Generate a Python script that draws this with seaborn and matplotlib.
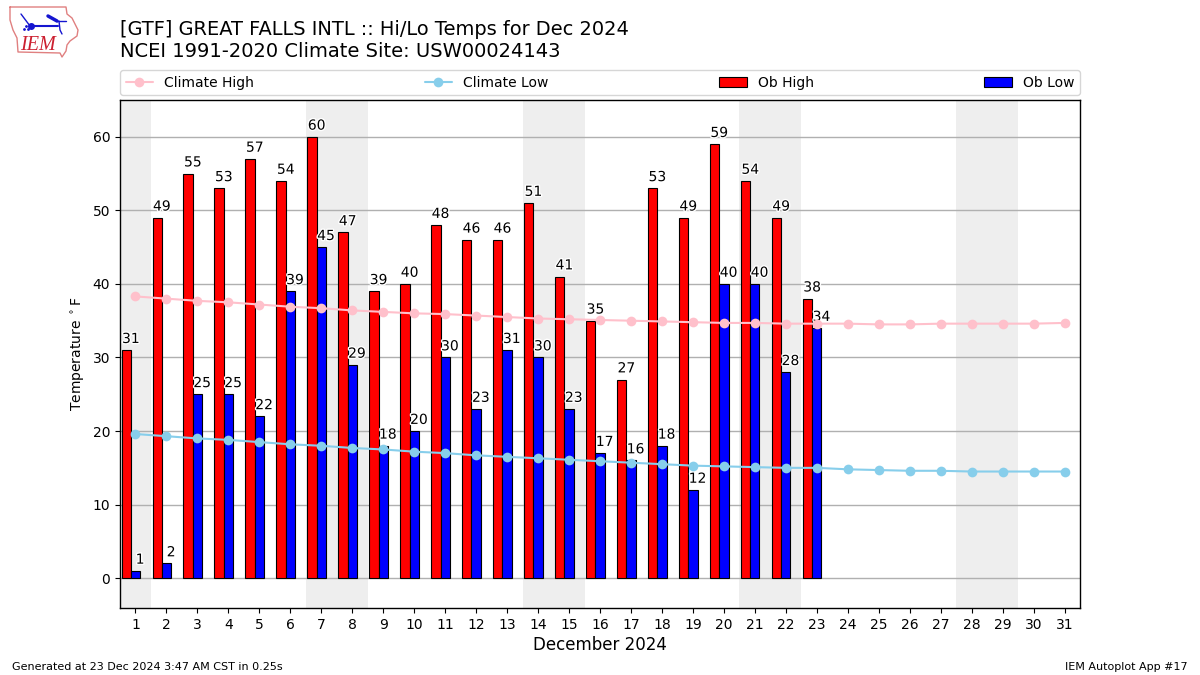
#Libraries
import numpy as np
import pandas as pd
import seaborn as sns
import matplotlib.pyplot as plt
import matplotlib.patheffects as pe

#Inputs
days = list(range(1, 32))
ob_high = [31, 49, 55, 53, 57, 54, 60, 47, 39, 40, 48, 46, 46, 51, 41, 35, 27, 53, 49, 59, 54, 49, 38]
ob_low = [1, 2, 25, 25, 22, 39, 45, 29, 18, 20, 30, 23, 31, 30, 23, 17, 16, 18, 12, 40, 40, 28, 34]
climate_high = [38.3, 38.0, 37.7, 37.5, 37.2, 36.9, 36.7, 36.4, 36.2, 36.0, 35.9, 35.7, 35.5, 35.3, 35.2, 35.1,
                35.0, 34.9, 34.8, 34.7, 34.7, 34.6, 34.6, 34.6, 34.5, 34.5, 34.6, 34.6, 34.6, 34.6, 34.7]
climate_low = [19.6, 19.3, 19.0, 18.8, 18.5, 18.2, 18.0, 17.7, 17.5, 17.2, 17.0, 16.7, 16.5, 16.3, 16.1, 15.9,
               15.7, 15.5, 15.3, 15.2, 15.1, 15.0, 15.0, 14.8, 14.7, 14.6, 14.6, 14.5, 14.5, 14.5, 14.5]
weekends = [(0.5, 1.5), (6.5, 8.5), (13.5, 15.5), (20.5, 22.5), (27.5, 29.5)]

sns.set_style('ticks')
plt.rcParams['font.family'] = ['DejaVu Sans']
plt.rcParams['axes.edgecolor'] = 'black'
plt.rcParams['text.color'] = 'black'
plt.rcParams['axes.labelcolor'] = 'black'
plt.rcParams['xtick.color'] = 'black'
plt.rcParams['ytick.color'] = 'black'

W, H = 1200, 675
fig = plt.figure(figsize=(12, 6.75), dpi=100)
ax = fig.add_axes([120/W, 1 - 608/H, 960/W, 508/H])

df_ob = pd.DataFrame({'day': days[:len(ob_high)], 'high': ob_high, 'low': ob_low})
df_clim = pd.DataFrame({'day': days, 'high': climate_high, 'low': climate_low})

#Bars: the high sits left of the day, the low is centred on it
sns.barplot(x=df_ob['day'] - 0.3, y=df_ob['high'], native_scale=True, width=0.3, color='red', saturation=1,
            edgecolor='black', linewidth=0.8, label='Ob High', ax=ax, zorder=2)
sns.barplot(x=df_ob['day'], y=df_ob['low'], native_scale=True, width=0.3, color='blue', saturation=1,
            edgecolor='black', linewidth=0.8, label='Ob Low', ax=ax, zorder=2)

#Climate lines
sns.lineplot(x=df_clim['day'], y=df_clim['high'], color='pink', marker='o', markersize=7, markeredgewidth=0,
             linewidth=1.5, label='Climate High', ax=ax, zorder=4, errorbar=None)
sns.lineplot(x=df_clim['day'], y=df_clim['low'], color='skyblue', marker='o', markersize=7, markeredgewidth=0,
             linewidth=1.5, label='Climate Low', ax=ax, zorder=4, errorbar=None)

#Value labels
halo = [pe.withStroke(linewidth=2, foreground='white')]
for d, hi, lo in zip(df_ob['day'], df_ob['high'], df_ob['low']):
    ax.annotate(str(hi), (d - 0.15, hi), xytext=(0, 3), textcoords='offset points', ha='center', va='bottom',
                fontsize=10, path_effects=halo, zorder=3)
    ax.annotate(str(lo), (d + 0.15, lo), xytext=(0, 3), textcoords='offset points', ha='center', va='bottom',
                fontsize=10, path_effects=halo, zorder=3)

#Weekend shading and grid
for start, end in weekends:
    ax.axvspan(start, end, color='#eeeeee', linewidth=0, zorder=0)
ax.yaxis.grid(True, color='#b0b0b0', linewidth=1, zorder=1)
ax.xaxis.grid(False)
ax.set_axisbelow(True)

ax.set_xlim(0.5, 31.5)
ax.set_ylim(-4.05, 65)
ax.set_xticks(days)
ax.set_xticklabels([str(d) for d in days])
ax.set_yticks(np.arange(0, 61, 10))
ax.tick_params(axis='both', labelsize=10, length=3.5, width=0.8, color='black')
ax.set_xlabel('December 2024', fontsize=12, labelpad=3)
ax.set_ylabel(r'Temperature $^\circ$F', fontsize=10)
for side in ax.spines.values():
    side.set_visible(True)
    side.set_linewidth(1)
    side.set_color('black')

#Legend strip above the axes
handles, labels = ax.get_legend_handles_labels()
order = [labels.index(n) for n in ['Climate High', 'Climate Low', 'Ob High', 'Ob Low']]
ax.legend([handles[i] for i in order], [labels[i] for i in order], loc='lower left', mode='expand', ncol=4,
          bbox_to_anchor=(0, 1.0095, 1, 0.05), borderaxespad=0, fontsize=10, frameon=True)

#Titles and footers
fig.text(120/W, 1 - 29.5/H, '[GTF] GREAT FALLS INTL :: Hi/Lo Temps for Dec 2024', fontsize=13.95, va='center')
fig.text(120/W, 1 - 51.5/H, 'NCEI 1991-2020 Climate Site: USW00024143', fontsize=14, va='center')
fig.text(12/W, 1 - 667/H, 'Generated at 23 Dec 2024 3:47 AM CST in 0.25s', fontsize=8, va='center')
fig.text(1188/W, 1 - 667/H, 'IEM Autoplot App #17', fontsize=8, va='center', ha='right')

#IEM logo, drawn in its own little axes in pixel units
logo = fig.add_axes([0, 1 - 65/H, 90/W, 65/H])
logo.set_xlim(0, 90)
logo.set_ylim(65, 0)
logo.axis('off')
logo.plot([10, 66, 67, 72, 78, 77, 70, 67, 66, 62, 60, 18, 17, 13, 10, 10],
          [7, 7, 14, 18, 30, 36, 41, 45, 51, 57, 53, 52, 38, 30, 20, 7], color='#e08080', linewidth=1)
logo.plot([30, 58], [26, 26], color='#1515d0', linewidth=1.5)
logo.plot([21, 24, 30], [14, 18, 26], color='#1515d0', linewidth=1)
logo.plot([48, 57], [16, 21], color='#1515d0', linewidth=2.5)
logo.plot([56, 66], [21, 21], color='#1515d0', linewidth=1)
logo.plot([59, 60, 62], [21, 30, 34], color='#1515d0', linewidth=1)
logo.plot([31], [26], marker='o', markersize=4, color='#1515d0')
logo.plot([24, 26, 28], [29, 26, 29], linestyle='none', marker='o', markersize=1, color='#1515d0')
logo.text(37.5, 45, 'IEM', color='#cc2030', fontsize=14.5, family='Liberation Serif', style='italic', ha='center',
          va='center')

fig.savefig('out.png', dpi=100)
plt.close(fig)
